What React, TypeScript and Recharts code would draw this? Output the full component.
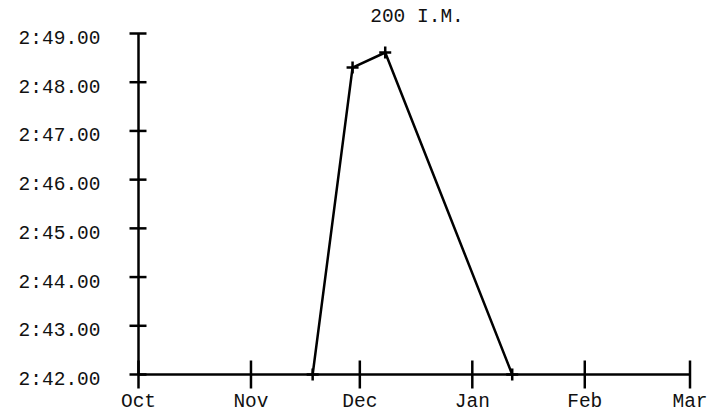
import { LineChart, Line, XAxis, YAxis } from "recharts";

// swim times for the 200 I.M. (season Oct 2023 - Mar 2024)
const raceDates = ["2023-11-18", "2023-11-29", "2023-12-08", "2024-01-12"];
const raceTimes = ["2:42.00", "2:48.30", "2:48.61", "2:42.00"];

const monthLabels = ["Oct", "Nov", "Dec", "Jan", "Feb", "Mar"];
const monthStarts = ["2023-10-01", "2023-11-01", "2023-12-01", "2024-01-01", "2024-02-01", "2024-03-01"];
const timeTicks = ["2:42.00", "2:43.00", "2:44.00", "2:45.00", "2:46.00", "2:47.00", "2:48.00", "2:49.00"];

const FONT = '"Liberation Mono", "Courier New", monospace';
const DAY = 24 * 60 * 60 * 1000;
const seasonStart = Date.UTC(2023, 9, 1);

// days since Oct 1
function dayOf(s: string) {
  const [y, m, d] = s.split("-").map(Number);
  return Math.round((Date.UTC(y, m - 1, d) - seasonStart) / DAY);
}

function toSeconds(t: string) {
  const [m, s] = t.split(":");
  return Number(m) * 60 + Number(s);
}

function fmtTime(v: number) {
  const m = Math.floor(v / 60);
  const s = v - m * 60;
  return `${m}:${s.toFixed(2).padStart(5, "0")}`;
}

const data = raceDates.map((d, i) => ({ day: dayOf(d), time: toSeconds(raceTimes[i]) }));
const xTicks = monthStarts.map(dayOf);
const yTicks = timeTicks.map(toSeconds);

const YTick = ({ x, y, payload }: any) => (
  <g>
    <line x1={x - 9} x2={x + 8} y1={y} y2={y} stroke="#000" strokeWidth={2.5} />
    <text x={x - 38} y={y + 10.5} textAnchor="end" fontFamily={FONT} fontSize={19.5} fill="#111">
      {fmtTime(payload.value)}
    </text>
  </g>
);

const XTick = ({ x, y, payload }: any) => {
  const idx = xTicks.indexOf(payload.value);
  return (
    <g>
      <line x1={x} x2={x} y1={y - 14} y2={y + 14} stroke="#000" strokeWidth={2.5} />
      <text x={x} y={y + 32} textAnchor="middle" fontFamily={FONT} fontSize={19.5} fill="#111">
        {monthLabels[idx]}
      </text>
    </g>
  );
};

const Cross = ({ cx, cy, index }: any) => (
  <path
    key={`c${index}`}
    d={`M${cx - 6},${cy}H${cx + 6}M${cx},${cy - 6}V${cy + 6}`}
    stroke="#000"
    strokeWidth={2.5}
    fill="none"
  />
);

export default function App() {
  return (
    <div style={{ position: "absolute", left: 0, top: 0, width: 727, height: 416, background: "#fff" }}>
      <LineChart
        width={727}
        height={416}
        data={data}
        margin={{ top: 33.5, right: 37, bottom: 11.5, left: 0 }}
      >
        <XAxis
          dataKey="day"
          type="number"
          domain={[xTicks[0], xTicks[xTicks.length - 1]]}
          ticks={xTicks}
          interval={0}
          height={30}
          tickSize={0}
          tickMargin={0}
          tickLine={false}
          axisLine={{ stroke: "#000", strokeWidth: 2.5 }}
          tick={<XTick />}
        />
        <YAxis
          dataKey="time"
          type="number"
          domain={[yTicks[0], yTicks[yTicks.length - 1]]}
          ticks={yTicks}
          interval={0}
          width={138.5}
          tickSize={0}
          tickMargin={0}
          tickLine={false}
          axisLine={{ stroke: "#000", strokeWidth: 2.5 }}
          tick={<YTick />}
        />
        <Line
          type="linear"
          dataKey="time"
          stroke="#000"
          strokeWidth={2.5}
          dot={<Cross />}
          activeDot={false}
          isAnimationActive={false}
        />
      </LineChart>
      <svg width={727} height={40} style={{ position: "absolute", left: 0, top: 0, pointerEvents: "none" }}>
        <text x={417} y={21.5} textAnchor="middle" fontFamily={FONT} fontSize={19.5} fill="#111">
          200 I.M.
        </text>
      </svg>
    </div>
  );
}
